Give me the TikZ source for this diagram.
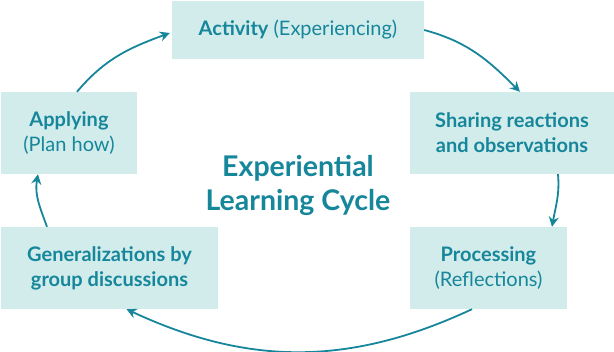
\documentclass[tikz,border=0pt]{standalone}
\usepackage{fontspec}
\setmainfont{Lato}
\usepackage{xcolor}
\usetikzlibrary{arrows.meta}
\definecolor{cycleteal}{RGB}{22,134,155}
\definecolor{cyclefill}{RGB}{210,236,236}

\begin{document}
\begin{tikzpicture}[>={Stealth[length=10pt,width=10pt]}, x=1pt, y=1pt,
    stage/.style={fill=cyclefill, text=cycleteal, align=center, inner sep=0pt,
        minimum height=82pt, font=\fontsize{20}{25}\selectfont},
    flow/.style={->, draw=cycleteal, line width=1.8pt}]
    \useasboundingbox (0,0) rectangle (614,352);
    % stages
    \node[stage, minimum width=252pt, minimum height=58pt] (activity) at (298,322) {\textbf{Activity} (Experiencing)};
    \node[stage, minimum width=204pt] (sharing) at (512,219) {\textbf{Sharing reactions}\\\textbf{and observations}};
    \node[stage, minimum width=157pt] (processing) at (488.5,84) {\textbf{Processing}\\(Reflections)};
    \node[stage, minimum width=217pt] (generalizing) at (109.5,84) {\textbf{Generalizations by}\\\textbf{group discussions}};
    \node[stage, minimum width=136pt] (applying) at (69,219) {\textbf{Applying}\\(Plan how)};
    \node[text=cycleteal, align=center, font=\fontsize{28.5}{34}\selectfont\bfseries] (title) at (298,167) {Experiential\\Learning Cycle};

    % cycle
    \draw[flow] ([xshift=8pt]applying.north) to[out=50, in=200] ([xshift=-2pt, yshift=-3pt]activity.west);
    \draw[flow] (activity.east) to[out=-15, in=135] ([xshift=8pt]sharing.north);
    \draw[flow] ([xshift=46pt]sharing.south) to[out=-85, in=80] ([xshift=63.5pt]processing.north);
    \draw[flow] ([xshift=-16.5pt]processing.south) to[out=-155, in=-25] ([xshift=17pt]generalizing.south);
    \draw[flow] ([xshift=-62.5pt]generalizing.north) to[out=110, in=-100] ([xshift=-31pt]applying.south);
\end{tikzpicture}
\end{document}
